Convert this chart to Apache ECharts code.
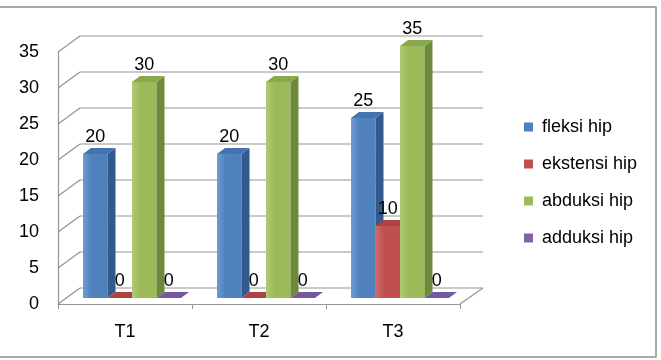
<!DOCTYPE html>
<html><head><meta charset="utf-8">
<script src="https://cdn.jsdelivr.net/npm/echarts@6/dist/echarts.min.js"></script>
<style>html,body{margin:0;padding:0;background:#fff}#c{width:661px;height:360px}</style>
</head><body><div id="c"></div>
<script>
const categories = ['T1', 'T2', 'T3'];
const seriesNames = ['fleksi hip', 'ekstensi hip', 'abduksi hip', 'adduksi hip'];
const fleksi = [20, 20, 25];
const ekstensi = [0, 0, 10];
const abduksi = [30, 30, 35];
const adduksi = [0, 0, 0];
const yTicks = [0, 5, 10, 15, 20, 25, 30, 35];

const seriesValues = [fleksi, ekstensi, abduksi, adduksi];
const palette = [
  { base: '#4f81bd', light: '#6f9bd2', side: '#335a8c', top: '#4373b0' },
  { base: '#c0504d', light: '#cf6d6a', side: '#8d3735', top: '#ab4341' },
  { base: '#9bbb59', light: '#aecb73', side: '#6d8a3a', top: '#88a94a' },
  { base: '#8064a2', light: '#9580b3', side: '#5b4678', top: '#7458a0' }
];
const FONT = 'Liberation Sans';
const FS = 18;
const DEPTH_X = 22, DEPTH_Y = 16;   // wall depth
const BAR_DX = 7, BAR_DY = 6;       // bar front-plane shift
const BAR_SX = 8, BAR_SY = 6;       // bar thickness

function barRender(sIdx) {
  return function (params, api) {
    const cat = api.value(0), v = api.value(1);
    const p = api.coord([cat, v]);
    const p0 = api.coord([cat, 0]);
    const W = api.size([1, 0])[0];
    const bw = W * 0.1828;
    const x = p[0] - 2 * bw + BAR_DX + sIdx * bw;
    const yB = p0[1] - BAR_DY;
    const yT = p[1] - BAR_DY;
    const c = palette[sIdx];
    const ch = [];
    if (yB - yT > 0.5) {
      ch.push({ type: 'rect', z2: sIdx * 4 + 1,
        shape: { x: x, y: yT, width: bw, height: yB - yT },
        style: { fill: new echarts.graphic.LinearGradient(0, 0, 1, 0, [
          { offset: 0, color: c.light }, { offset: 0.35, color: c.base }, { offset: 1, color: c.base }]) } });
      ch.push({ type: 'polygon', z2: sIdx * 4 + 2,
        shape: { points: [[x + bw, yT], [x + bw + BAR_SX, yT - BAR_SY], [x + bw + BAR_SX, yB - BAR_SY], [x + bw, yB]] },
        style: { fill: c.side } });
    }
    ch.push({ type: 'polygon', z2: sIdx * 4 + 3,
      shape: { points: [[x, yT], [x + bw, yT], [x + bw + BAR_SX, yT - BAR_SY], [x + BAR_SX, yT - BAR_SY]] },
      style: { fill: c.top } });
    ch.push({ type: 'text', z2: 100,
      style: { text: String(v), x: x + bw / 2, y: yT - 17, align: 'center', verticalAlign: 'middle',
        font: FS + 'px "' + FONT + '"', fill: '#000' } });
    return { type: 'group', children: ch };
  };
}

function wallRender(params, api) {
  const v = api.value(1);
  const y = api.coord([0, v])[1];
  const cs = params.coordSys;
  const col = '#959595';
  const ch = [
    { type: 'line', shape: { x1: cs.x + DEPTH_X, y1: y - DEPTH_Y, x2: cs.x + cs.width + DEPTH_X + 1, y2: y - DEPTH_Y }, style: { stroke: col, lineWidth: 1.2 } },
    { type: 'line', shape: { x1: cs.x, y1: y, x2: cs.x + DEPTH_X, y2: y - DEPTH_Y }, style: { stroke: col, lineWidth: 1.2 } }
  ];
  if (v === 0) {
    ch.push({ type: 'line', shape: { x1: cs.x + cs.width, y1: y, x2: cs.x + cs.width + DEPTH_X + 1, y2: y - DEPTH_Y }, style: { stroke: col, lineWidth: 1.2 } });
  }
  return { type: 'group', children: ch };
}

const series = [{
  type: 'custom', name: '_walls', silent: true, z: 1,
  data: yTicks.map(function (t) { return [0, t]; }),
  encode: { x: 0, y: 1 },
  renderItem: wallRender
}];
seriesNames.forEach(function (n, i) {
  series.push({
    type: 'custom', name: n, z: 2,
    itemStyle: { color: palette[i].base },
    data: seriesValues[i].map(function (v, k) { return [k, v]; }),
    encode: { x: 0, y: 1 },
    renderItem: barRender(i)
  });
});

const chart = echarts.init(document.getElementById('c'), null, { renderer: 'canvas' });
chart.setOption({
  animation: false,
  backgroundColor: '#fff',
  grid: { left: 58, right: 201, top: 52, bottom: 56 },
  xAxis: {
    type: 'category', data: categories, boundaryGap: true,
    axisLine: { show: true, lineStyle: { color: '#959595', width: 1.2 } },
    axisTick: { show: true, length: 5, lineStyle: { color: '#959595' } },
    axisLabel: { color: '#000', fontFamily: FONT, fontSize: FS, margin: 19 },
    splitLine: { show: false }
  },
  yAxis: {
    type: 'value', min: 0, max: 35, interval: 5,
    axisLine: { show: true, lineStyle: { color: '#959595', width: 1.2 } },
    axisTick: { show: false },
    axisLabel: { color: '#000', fontFamily: FONT, fontSize: FS, margin: 19 },
    splitLine: { show: false }
  },
  legend: {
    data: seriesNames, orient: 'vertical', left: 524, top: 117, padding: 0,
    icon: 'rect', itemWidth: 9, itemHeight: 9, itemGap: 17,
    textStyle: { color: '#000', fontFamily: FONT, fontSize: FS, lineHeight: 20, padding: [0, 0, 0, 4] }
  },
  graphic: [{
    type: 'rect', silent: true, z: 0,
    shape: { x: -3, y: 7, width: 659, height: 350 },
    style: { fill: null, stroke: '#8f8f8f', lineWidth: 1.5 }
  }],
  series: series
});
</script></body></html>
